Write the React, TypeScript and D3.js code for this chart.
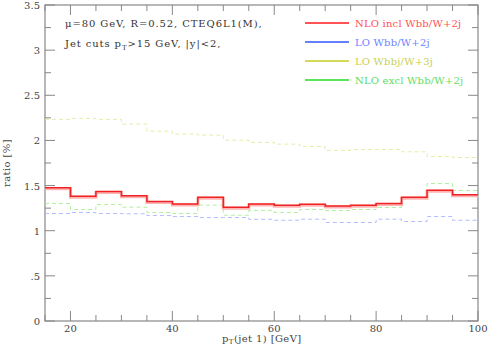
import React, { useRef, useEffect } from "react";
import * as d3 from "d3";

// bin edges for pT(jet 1), 5 GeV bins
const binEdges = [15, 20, 25, 30, 35, 40, 45, 50, 55, 60, 65, 70, 75, 80, 85, 90, 95, 100];

const nloIncl = [1.475, 1.383, 1.435, 1.386, 1.324, 1.297, 1.371, 1.261, 1.297, 1.283, 1.294, 1.275, 1.283, 1.301, 1.371, 1.449, 1.397];
const loWbb = [1.191, 1.202, 1.191, 1.188, 1.168, 1.157, 1.146, 1.146, 1.126, 1.116, 1.128, 1.091, 1.091, 1.128, 1.102, 1.157, 1.116];
const loWbbj = [2.233, 2.244, 2.233, 2.181, 2.103, 2.07, 2.059, 2.003, 1.978, 1.959, 1.933, 1.889, 1.9, 1.9, 1.874, 1.822, 1.811];
const nloExcl = [1.301, 1.235, 1.29, 1.261, 1.202, 1.191, 1.283, 1.172, 1.225, 1.202, 1.235, 1.224, 1.235, 1.257, 1.368, 1.523, 1.446];

const xTicks = [20, 40, 60, 80, 100];
const yTicks = [0, 0.5, 1, 1.5, 2, 2.5, 3, 3.5];
const yTickLabels = ["0", ".5", "1", "1.5", "2", "2.5", "3", "3.5"];

const legendNames = ["NLO incl Wbb/W+2j", "LO Wbb/W+2j", "LO Wbbj/W+3j", "NLO excl Wbb/W+2j"];
const legendLine = ["#ff1a1a", "#3355ff", "#c4cc22", "#22dd22"];
const legendText = ["#ff5050", "#6e80ff", "#c8d050", "#60dd60"];

const W = 488, H = 348;
const margin = { top: 5, right: 10, bottom: 27, left: 45 };

const App = () => {
  const svgRef = useRef<SVGSVGElement>(null);

  useEffect(() => {
    const svg = d3.select(svgRef.current);
    svg.selectAll("*").remove();
    const font = "'DejaVu Serif', serif";
    const axisCol = "#888";

    const x = d3.scaleLinear().domain([15, 100]).range([margin.left, W - margin.right]);
    const y = d3.scaleLinear().domain([0, 3.5]).range([H - margin.bottom, margin.top]);

    const step = (vals: number[]) => {
      const pts: [number, number][] = [];
      vals.forEach((v, i) => {
        pts.push([binEdges[i], v]);
        pts.push([binEdges[i + 1], v]);
      });
      return d3.line<[number, number]>().x((d) => x(d[0])).y((d) => y(d[1]))(pts);
    };

    // frame
    svg.append("rect")
      .attr("x", x(15)).attr("y", y(3.5))
      .attr("width", x(100) - x(15)).attr("height", y(0) - y(3.5))
      .attr("fill", "none").attr("stroke", axisCol).attr("stroke-width", 1.2);

    // ticks on all four sides
    const g = svg.append("g").attr("stroke", axisCol).attr("stroke-width", 1);
    for (let v = 15; v <= 100; v += 5) {
      const len = v % 20 === 0 ? 10 : 6;
      g.append("line").attr("x1", x(v)).attr("x2", x(v)).attr("y1", y(0)).attr("y2", y(0) - len);
      g.append("line").attr("x1", x(v)).attr("x2", x(v)).attr("y1", y(3.5)).attr("y2", y(3.5) + len);
    }
    for (let v = 0; v <= 3.5; v += 0.25) {
      const len = Math.abs(v * 2 - Math.round(v * 2)) < 1e-6 ? 10 : 6;
      g.append("line").attr("x1", x(15)).attr("x2", x(15) + len).attr("y1", y(v)).attr("y2", y(v));
      g.append("line").attr("x1", x(100)).attr("x2", x(100) - len).attr("y1", y(v)).attr("y2", y(v));
    }

    // tick labels
    svg.append("g").selectAll("text").data(yTicks).enter().append("text")
      .attr("x", x(15) - 5).attr("y", (d) => y(d) + 4)
      .attr("text-anchor", "end").attr("font-family", font).attr("font-size", 10)
      .attr("fill", "#444").text((d, i) => yTickLabels[i]);
    svg.append("g").selectAll("text").data(xTicks).enter().append("text")
      .attr("x", (d) => x(d)).attr("y", y(0) + 10.5)
      .attr("text-anchor", "middle").attr("font-family", font).attr("font-size", 10)
      .attr("fill", "#444").text((d) => d);

    // axis titles
    const xt = svg.append("text").attr("x", 222).attr("y", 341.5)
      .attr("font-family", font).attr("font-size", 10).attr("letter-spacing", 0.4)
      .attr("fill", "#444");
    xt.append("tspan").text("p");
    xt.append("tspan").attr("font-size", 7).attr("dy", 2.5).text("T");
    xt.append("tspan").attr("dy", -2.5).text("(jet 1) [GeV]");
    svg.append("text").attr("transform", `translate(10,${(y(0) + y(3.5)) / 2}) rotate(-90)`)
      .attr("text-anchor", "middle").attr("font-family", font).attr("font-size", 10)
      .attr("letter-spacing", 0.4).attr("fill", "#444").text("ratio [%]");

    // annotations
    svg.append("text").attr("x", 65).attr("y", 27).attr("font-family", font).attr("font-size", 10)
      .attr("letter-spacing", 0.9).attr("fill", "#333").text("\u03bc=80 GeV, R=0.52, CTEQ6L1(M),");
    const t2 = svg.append("text").attr("x", 65).attr("y", 47).attr("font-family", font).attr("font-size", 10)
      .attr("letter-spacing", 0.9).attr("fill", "#333");
    t2.append("tspan").text("Jet cuts p");
    t2.append("tspan").attr("font-size", 7).attr("dy", 2.5).text("T");
    t2.append("tspan").attr("dy", -2.5).text(">15 GeV, |y|<2,");

    // series
    const dashed = [
      { vals: loWbbj, col: "#e2eeaa" },
      { vals: loWbb, col: "#b4bcff" },
      { vals: nloExcl, col: "#b2ee9e" },
    ];
    dashed.forEach((s) => {
      svg.append("path").attr("d", step(s.vals)).attr("fill", "none")
        .attr("stroke", s.col).attr("stroke-width", 1).attr("stroke-dasharray", "4,3");
    });
    svg.append("path").attr("d", step(nloIncl)).attr("fill", "none")
      .attr("transform", "translate(0,1)")
      .attr("stroke", "#ffb4b4").attr("stroke-width", 3);
    svg.append("path").attr("d", step(nloIncl)).attr("fill", "none")
      .attr("stroke", "#ee2222").attr("stroke-width", 1.5);

    // legend
    legendNames.forEach((name, i) => {
      const ly = 23 + i * 19;
      svg.append("line").attr("x1", 305).attr("x2", 349).attr("y1", ly).attr("y2", ly)
        .attr("stroke", legendLine[i]).attr("stroke-width", 1.3);
      svg.append("text").attr("x", 355).attr("y", ly + 4).attr("font-family", font)
        .attr("font-size", 10).attr("letter-spacing", 0.2).attr("fill", legendText[i]).text(name);
    });
  }, []);

  return (
    <svg ref={svgRef} width={W} height={H}
      style={{ position: "absolute", left: 0, top: 0, background: "#fff" }} />
  );
};

export default App;
